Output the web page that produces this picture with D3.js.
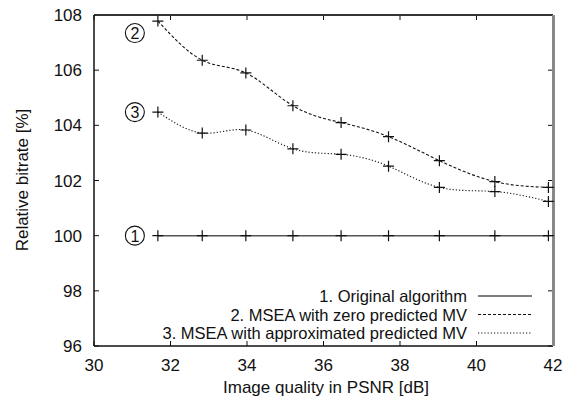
<!DOCTYPE html>
<html lang="en">
<head>
<meta charset="UTF-8">
<title>Relative bitrate vs PSNR</title>
<script src="https://d3js.org/d3.v7.min.js"></script>
<style>
  body { margin: 0; background: #fff; }
  text { font-family: "Liberation Sans", Arial, sans-serif; fill: #111; }
</style>
</head>
<body>
<div id="chart"></div>
<script>
// data
const psnr = [31.67, 32.83, 33.97, 35.20, 36.46, 37.70, 39.03, 40.48, 41.88];
const original = [100, 100, 100, 100, 100, 100, 100, 100, 100];
const zeroMV = [107.78, 106.36, 105.90, 104.71, 104.10, 103.59, 102.72, 101.96, 101.75];
const approxMV = [104.48, 103.72, 103.83, 103.15, 102.95, 102.52, 101.75, 101.60, 101.24];
const seriesNames = ["1. Original algorithm", "2. MSEA with zero predicted MV", "3. MSEA with approximated predicted MV"];
const xTicks = [30, 32, 34, 36, 38, 40, 42];
const yTicks = [96, 98, 100, 102, 104, 106, 108];

const W = 573, H = 404;
const margin = {top: 15, right: 20, bottom: 58, left: 94};
const width = 553 - margin.left;
const height = 346 - margin.top;
const fs = 17;

const svg = d3.select("#chart").append("svg")
    .attr("width", W).attr("height", H);
const g = svg.append("g")
    .attr("transform", "translate(" + margin.left + "," + margin.top + ")");

const x = d3.scaleLinear().domain([30, 42]).range([0, width]);
const y = d3.scaleLinear().domain([96, 108]).range([height, 0]);

// ticks (inward, mirrored)
const tickLen = 5;
xTicks.forEach(t => {
    g.append("line").attr("x1", x(t)).attr("x2", x(t))
        .attr("y1", height).attr("y2", height - tickLen).attr("stroke", "#111");
    g.append("line").attr("x1", x(t)).attr("x2", x(t))
        .attr("y1", 0).attr("y2", tickLen).attr("stroke", "#111");
    g.append("text").attr("x", x(t)).attr("y", height + 25)
        .attr("text-anchor", "middle").attr("font-size", fs).text(t);
});
yTicks.forEach(t => {
    g.append("line").attr("x1", 0).attr("x2", tickLen)
        .attr("y1", y(t)).attr("y2", y(t)).attr("stroke", "#111");
    g.append("line").attr("x1", width).attr("x2", width - tickLen)
        .attr("y1", y(t)).attr("y2", y(t)).attr("stroke", "#111");
    g.append("text").attr("x", -12).attr("y", y(t) + 6)
        .attr("text-anchor", "end").attr("font-size", fs).text(t);
});

// frame
g.append("line").attr("x1", 0).attr("x2", width).attr("y1", 0).attr("y2", 0)
    .attr("stroke", "#333").attr("stroke-width", 2);
g.append("line").attr("x1", 0).attr("x2", 0).attr("y1", 0).attr("y2", height)
    .attr("stroke", "#111").attr("stroke-width", 1.5);
g.append("line").attr("x1", 0).attr("x2", width).attr("y1", height).attr("y2", height)
    .attr("stroke", "#111").attr("stroke-width", 1.5);
g.append("line").attr("x1", width + 0.5).attr("x2", width + 0.5).attr("y1", 0).attr("y2", height)
    .attr("stroke", "#888").attr("stroke-width", 3);

// series
const series = [
    {name: seriesNames[0], values: original, dash: null, color: "#555", tag: "1"},
    {name: seriesNames[1], values: zeroMV, dash: "3,2", color: "#111", tag: "2"},
    {name: seriesNames[2], values: approxMV, dash: "1.2,2", color: "#111", tag: "3"}
];

const line = d3.line()
    .x((d, i) => x(psnr[i]))
    .y(d => y(d))
    .curve(d3.curveNatural);

const plus = "M-5.5,0H5.5M0,-5.5V5.5";

series.forEach(s => {
    g.append("path")
        .attr("d", line(s.values))
        .attr("fill", "none")
        .attr("stroke", s.color)
        .attr("stroke-width", s.dash ? 1.1 : 1.5)
        .attr("stroke-dasharray", s.dash);
    g.selectAll(null)
        .data(s.values)
        .enter().append("path")
        .attr("d", plus)
        .attr("transform", (d, i) => "translate(" + x(psnr[i]) + "," + y(d) + ")")
        .attr("stroke", "#111")
        .attr("stroke-width", 1.2);
    // circled number near first point
    const cx = x(psnr[0]) - 23;
    const cy = y(s.values[0]) + (s.tag === "2" ? 12 : 0);
    g.append("circle").attr("cx", cx).attr("cy", cy).attr("r", 9.5)
        .attr("fill", "none").attr("stroke", "#111").attr("stroke-width", 1.1);
    g.append("text").attr("x", cx).attr("y", cy + 6)
        .attr("text-anchor", "middle").attr("font-size", 16).text(s.tag);
});

// legend
const legend = svg.append("g");
series.forEach((s, i) => {
    const ly = 296 + i * 18.5;
    legend.append("text").attr("x", 467).attr("y", ly + 6)
        .attr("text-anchor", "end").attr("font-size", 16.5).text(s.name);
    legend.append("line").attr("x1", 478).attr("x2", 532)
        .attr("y1", ly).attr("y2", ly)
        .attr("stroke", s.color).attr("stroke-width", s.dash ? 1.1 : 1.5)
        .attr("stroke-dasharray", s.dash);
});

// axis titles
svg.append("text").attr("x", 326).attr("y", 393)
    .attr("text-anchor", "middle").attr("font-size", fs)
    .text("Image quality in PSNR [dB]");
svg.append("text")
    .attr("transform", "translate(28,180) rotate(-90)")
    .attr("text-anchor", "middle").attr("font-size", fs)
    .text("Relative bitrate [%]");
</script>
</body>
</html>
